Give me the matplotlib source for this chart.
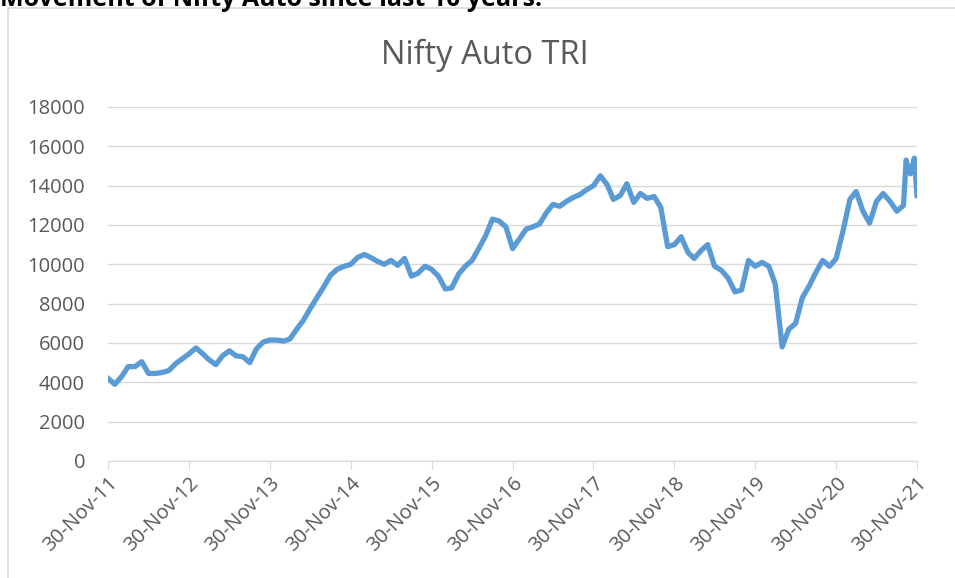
import numpy as np
import pandas as pd
import matplotlib
matplotlib.use("Agg")
import matplotlib.pyplot as plt
from matplotlib.patches import Rectangle

# month-end values, Nov-2011 .. Nov-2021
monthly_values = [
    4200, 3900, 4300, 4800, 4800, 5050, 4450, 4450, 4500, 4600, 4950, 5200,
    5450, 5750, 5450, 5150, 4900, 5350, 5600, 5350, 5300, 5000, 5700, 6050,
    6150, 6150, 6100, 6200, 6700, 7150, 7750, 8300, 8850, 9450, 9750, 9900,
    10000, 10350, 10500, 10350, 10150, 10000, 10200, 9950, 10300, 9400, 9550, 9900,
    9750, 9400, 8750, 8800, 9500, 9900, 10200, 10800, 11450, 12300, 12200, 11900,
    10800, 11300, 11800, 11900, 12050, 12600, 13050, 12950, 13200, 13400, 13550, 13800,
    14000, 14500, 14050, 13300, 13500, 14100, 13150, 13600, 13350, 13450, 12900, 10900,
    11000, 11400, 10600, 10300, 10700, 11000, 9900, 9700, 9300, 8600, 8700, 10200,
    9900, 10100, 9900, 9000, 5800, 6700, 7000, 8300, 8900, 9600, 10200, 9900,
    10300, 11700, 13300, 13700, 12700, 12100, 13200, 13600, 13200, 12700, 13000, 14600,
    13500,
]
monthly_dates = pd.date_range("2011-11-30", periods=len(monthly_values), freq="ME")

# a few extra points for the sharp moves late in the series
extra_dates = pd.to_datetime(["2021-10-12", "2021-10-20", "2021-11-18"])
extra_values = [15300, 14900, 15400]

series = pd.Series(monthly_values + extra_values,
                   index=monthly_dates.append(extra_dates)).sort_index()

tick_dates = pd.date_range("2011-11-30", periods=11, freq="12ME")
tick_labels = [d.strftime("%d-%b-%y") for d in tick_dates]

fig = plt.figure(figsize=(9.55, 5.78), dpi=100)
ax = fig.add_axes([108/955, 117/578, 809/955, 354/578])

ax.plot(series.index, series.values, color="#5B9BD5", lw=3.8, solid_joinstyle="round")

ax.set_ylim(0, 18000)
ax.set_yticks(np.arange(0, 18001, 2000))
ax.set_xlim(tick_dates[0], tick_dates[-1])
ax.set_xticks(tick_dates)
ax.set_xticklabels(tick_labels, rotation=45, ha="right", rotation_mode="anchor")

ax.grid(axis="y", color="#D9D9D9", lw=1)
ax.set_axisbelow(True)
for s in ["top", "right", "left"]:
    ax.spines[s].set_visible(False)
ax.spines["bottom"].set_color("#D9D9D9")
ax.tick_params(axis="y", length=0, pad=16.5, labelsize=14.5, labelcolor="#595959")
ax.tick_params(axis="x", length=6, color="#D9D9D9", pad=3, labelsize=14.5, labelcolor="#595959")
for lab in ax.get_xticklabels() + ax.get_yticklabels():
    lab.set_fontfamily("Open Sans")

fig.text(485/955, 1 - 55/578, "Nifty Auto TRI", fontsize=23.5, color="#595959",
         family="Open Sans", ha="center", va="center")

fig.patches.append(Rectangle((8/955, -0.05), 1.1, 1 - 8/578 + 0.05, transform=fig.transFigure,
                             fill=False, edgecolor="#D9D9D9", lw=1.2))
fig.text(0.0, 1 - 6.5/578, "Movement of Nifty Auto since last 10 years.", fontsize=18,
         weight="bold", family="Open Sans", va="baseline", ha="left")

fig.savefig("out.png", dpi=100)
